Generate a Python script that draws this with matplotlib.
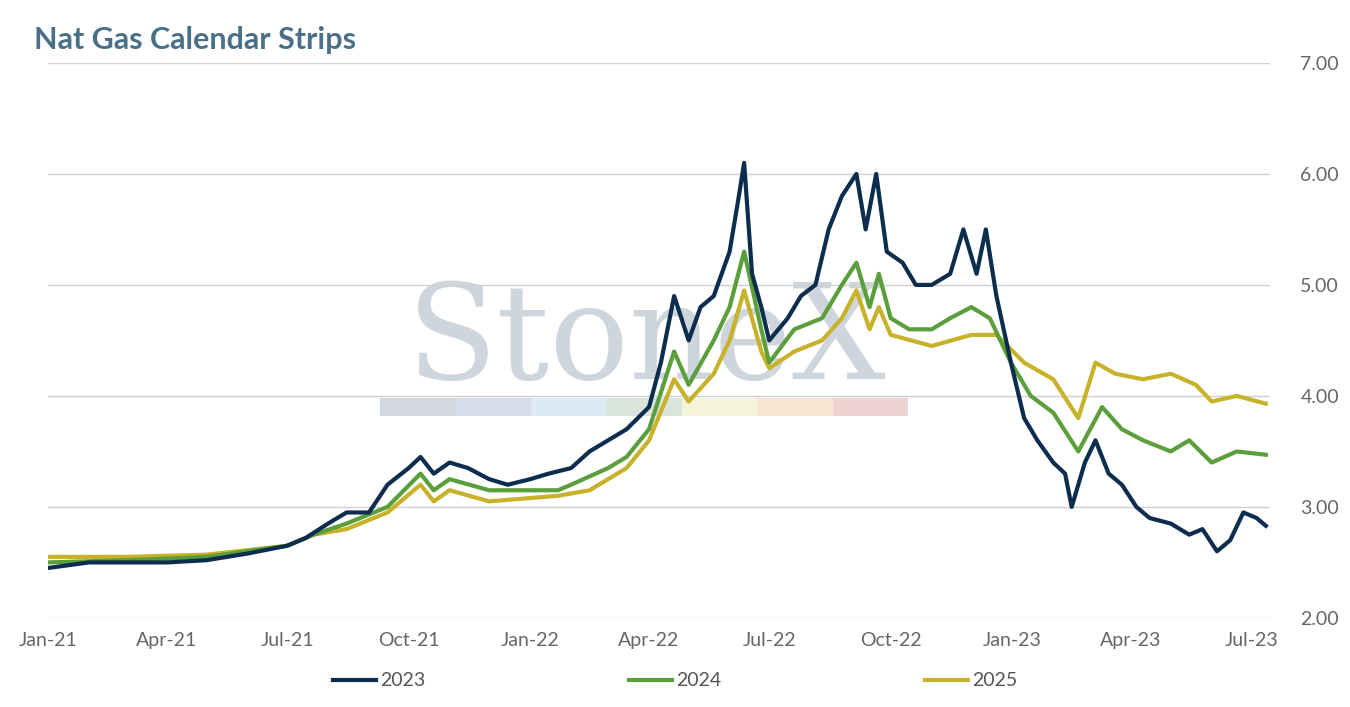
import matplotlib.pyplot as plt
import matplotlib.dates as mdates
import pandas as pd

plt.rcParams["font.family"] = ["Lato", "DejaVu Sans"]

# ---- data ----
d23 = ["2021-01-01", "2021-02-01", "2021-03-01", "2021-04-01", "2021-05-01", "2021-06-01",
       "2021-07-01", "2021-07-15", "2021-08-01", "2021-08-15", "2021-09-01", "2021-09-15",
       "2021-10-01", "2021-10-10", "2021-10-20", "2021-11-01", "2021-11-15", "2021-12-01",
       "2021-12-15", "2022-01-01", "2022-01-15", "2022-02-01", "2022-02-15", "2022-03-01",
       "2022-03-15", "2022-04-01", "2022-04-10", "2022-04-20", "2022-05-01", "2022-05-10",
       "2022-05-20", "2022-06-01", "2022-06-08", "2022-06-12", "2022-06-18", "2022-06-25",
       "2022-07-01", "2022-07-15", "2022-07-25", "2022-08-05", "2022-08-15", "2022-08-25",
       "2022-09-05", "2022-09-12", "2022-09-20", "2022-09-28", "2022-10-10", "2022-10-20",
       "2022-11-01", "2022-11-15", "2022-11-25", "2022-12-05", "2022-12-12", "2022-12-20",
       "2022-12-31", "2023-01-10", "2023-01-20", "2023-02-01", "2023-02-10", "2023-02-15",
       "2023-02-25", "2023-03-05", "2023-03-15", "2023-03-25", "2023-04-05", "2023-04-15",
       "2023-05-01", "2023-05-15", "2023-05-25", "2023-06-05", "2023-06-15", "2023-06-25",
       "2023-07-05", "2023-07-12"]
v23 = [2.45, 2.50, 2.50, 2.50, 2.52, 2.58, 2.65, 2.72, 2.85, 2.95, 2.95, 3.20,
       3.35, 3.45, 3.30, 3.40, 3.35, 3.25, 3.20, 3.25, 3.30, 3.35, 3.50, 3.60,
       3.70, 3.90, 4.30, 4.90, 4.50, 4.80, 4.90, 5.30, 5.80, 6.10, 5.10, 4.80,
       4.50, 4.70, 4.90, 5.00, 5.50, 5.80, 6.00, 5.50, 6.00, 5.30, 5.20, 5.00,
       5.00, 5.10, 5.50, 5.10, 5.50, 4.90, 4.30, 3.80, 3.60, 3.40, 3.30, 3.00,
       3.40, 3.60, 3.30, 3.20, 3.00, 2.90, 2.85, 2.75, 2.80, 2.60, 2.70, 2.95,
       2.90, 2.83]

d24 = ["2021-01-01", "2021-03-01", "2021-05-01", "2021-07-01", "2021-07-21", "2021-08-15",
       "2021-09-15", "2021-10-10", "2021-10-20", "2021-11-01", "2021-12-01", "2022-01-22",
       "2022-02-01", "2022-03-01", "2022-03-15", "2022-04-01", "2022-04-20", "2022-05-01",
       "2022-05-20", "2022-06-01", "2022-06-12", "2022-06-25", "2022-07-01", "2022-07-20",
       "2022-08-10", "2022-08-25", "2022-09-05", "2022-09-15", "2022-09-22", "2022-10-01",
       "2022-10-15", "2022-11-01", "2022-11-15", "2022-12-01", "2022-12-15", "2022-12-31",
       "2023-01-15", "2023-02-01", "2023-02-20", "2023-03-10", "2023-03-25", "2023-04-10",
       "2023-05-01", "2023-05-15", "2023-06-01", "2023-06-20", "2023-07-12"]
v24 = [2.50, 2.52, 2.55, 2.65, 2.75, 2.85, 3.00, 3.30, 3.15, 3.25, 3.15, 3.15,
       3.20, 3.35, 3.45, 3.70, 4.40, 4.10, 4.50, 4.80, 5.30, 4.60, 4.30, 4.60,
       4.70, 5.00, 5.20, 4.80, 5.10, 4.70, 4.60, 4.60, 4.70, 4.80, 4.70, 4.30,
       4.00, 3.85, 3.50, 3.90, 3.70, 3.60, 3.50, 3.60, 3.40, 3.50, 3.47]

d25 = ["2021-01-01", "2021-03-01", "2021-05-01", "2021-07-01", "2021-07-21", "2021-08-15",
       "2021-09-15", "2021-10-10", "2021-10-20", "2021-11-01", "2021-12-01", "2022-01-22",
       "2022-02-15", "2022-03-15", "2022-04-01", "2022-04-20", "2022-05-01", "2022-05-20",
       "2022-06-01", "2022-06-12", "2022-06-25", "2022-07-01", "2022-07-20", "2022-08-10",
       "2022-08-25", "2022-09-05", "2022-09-15", "2022-09-22", "2022-10-01", "2022-11-01",
       "2022-12-01", "2022-12-20", "2023-01-10", "2023-02-01", "2023-02-20", "2023-03-05",
       "2023-03-20", "2023-04-10", "2023-05-01", "2023-05-20", "2023-06-01", "2023-06-20",
       "2023-07-12"]
v25 = [2.55, 2.55, 2.57, 2.65, 2.75, 2.80, 2.95, 3.20, 3.05, 3.15, 3.05, 3.10,
       3.15, 3.35, 3.60, 4.15, 3.95, 4.20, 4.50, 4.95, 4.40, 4.25, 4.40, 4.50,
       4.70, 4.95, 4.60, 4.80, 4.55, 4.45, 4.55, 4.55, 4.30, 4.15, 3.80, 4.30,
       4.20, 4.15, 4.20, 4.10, 3.95, 4.00, 3.93]

series = [("2023", d23, v23, "#0c2d4e"), ("2024", d24, v24, "#5b9e3c"), ("2025", d25, v25, "#c8b22a")]

fig = plt.figure(figsize=(13.5, 7.07), dpi=100)
ax = fig.add_axes([0.0356, 0.126, 0.905, 0.785])

# watermark
ax.text(0.49, 0.38, "StoneX", transform=ax.transAxes, ha="center", va="bottom",
        fontsize=95, family="DejaVu Serif", color="#cfd5dd", zorder=0)
bar_cols = ["#d3d7de", "#d5dde8", "#dde9f3", "#d9e5da", "#f5f3dc", "#f7e6d3", "#eed3d3"]
for i, bc in enumerate(bar_cols):
    ax.axhspan(3.82, 3.98, xmin=0.272 + i * 0.0617, xmax=0.272 + (i + 1) * 0.0617,
               color=bc, lw=0, zorder=0)

for name, d, v, c in series[::-1]:
    ax.plot(pd.to_datetime(d), v, color=c, lw=3.0, label=name, zorder=2)

ax.set_ylim(2, 7)
ax.set_xlim(pd.Timestamp("2021-01-01"), pd.Timestamp("2023-07-15"))
ax.yaxis.tick_right()
ax.set_yticks([2, 3, 4, 5, 6, 7])
ax.set_yticklabels([f"{t:.2f}" for t in [2, 3, 4, 5, 6, 7]])
ticks = pd.date_range("2021-01-01", "2023-07-01", freq="3MS")
ax.set_xticks(ticks)
ax.xaxis.set_major_formatter(mdates.DateFormatter("%b-%y"))
ax.grid(axis="y", color="#d0d0d0", lw=1)
ax.set_axisbelow(True)
for s in ax.spines.values():
    s.set_visible(False)
ax.tick_params(length=0, labelsize=14, colors="#666666", pad=10)
ax.tick_params(axis="y", pad=22)

h, l = ax.get_legend_handles_labels()
fig.legend(h[::-1], l[::-1], loc="lower center", bbox_to_anchor=(0.5, 0.0), ncol=3,
           frameon=False, fontsize=14, columnspacing=10.5, handlelength=2.2,
           handletextpad=0.2, labelcolor="#555555")

fig.text(0.025, 0.93, "Nat Gas Calendar Strips", fontsize=22, fontweight="bold", color="#4a7089")

fig.savefig("out.png", dpi=100)
